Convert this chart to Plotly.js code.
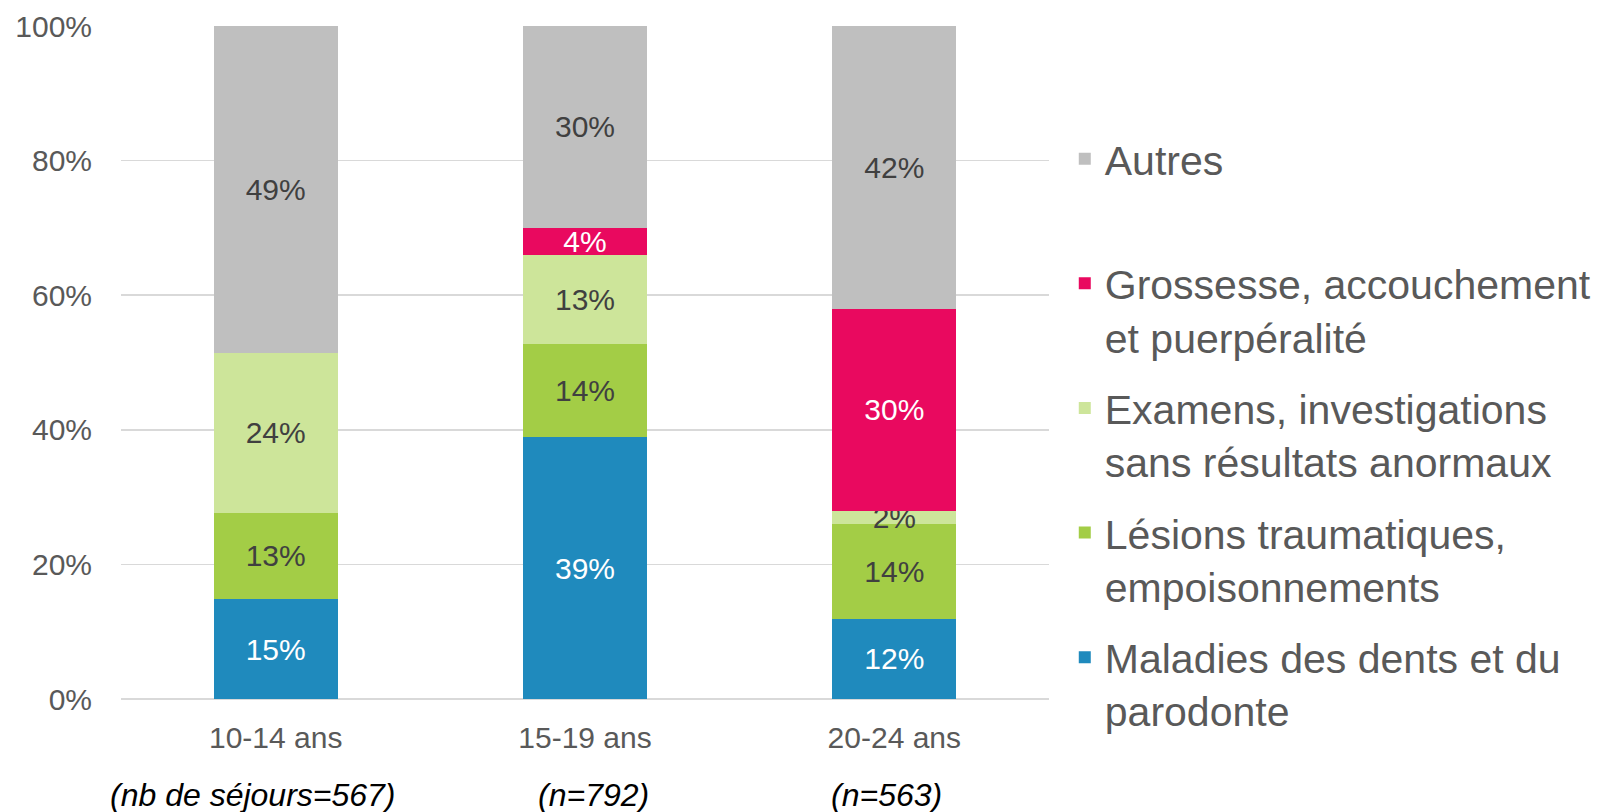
<!DOCTYPE html>
<html>
<head>
<meta charset="utf-8">
<script src="https://cdn.plot.ly/plotly-3.0.1.min.js"></script>
<style>
html, body { margin: 0; padding: 0; background: #ffffff; }
#chart { width: 1616px; height: 812px; }
</style>
</head>
<body>
<div id="chart"></div>
<script>
// Categories and sample sizes
const categories = ['10-14 ans', '15-19 ans', '20-24 ans'];
const subtitles = ['(nb de séjours=567)', '(n=792)', '(n=563)'];

// Series values (percent of stays)
const maladies = [14.8, 38.9, 11.9];
const lesions = [12.9, 13.9, 14.1];
const examens = [23.7, 13.2, 2.0];
const grossesse = [null, 4.0, 30.0];
const autres = [48.6, 30.0, 42.0];

// Series names
const seriesNames = [
  'Maladies des dents et du<br>parodonte',
  'Lésions traumatiques,<br>empoisonnements',
  'Examens, investigations<br>sans résultats anormaux',
  'Grossesse, accouchement<br>et puerpéralité',
  'Autres<br> '
];

// Y tick values and labels
const yTicks = [0, 20, 40, 60, 80, 100];
const yTickLabels = ['0%', '20%', '40%', '60%', '80%', '100%'];

const seriesValues = [maladies, lesions, examens, grossesse, autres];
const seriesColors = ['#1F8ABD', '#A3CD46', '#CDE59A', '#E9095F', '#BFBFBF'];
const labelColors = ['#FFFFFF', '#404040', '#404040', '#FFFFFF', '#404040'];

const FONT = '"Liberation Sans", Arial, Helvetica, sans-serif';

const traces = seriesValues.map((vals, i) => ({
  type: 'bar',
  name: seriesNames[i],
  legendgroup: 'g' + i,
  legendrank: seriesValues.length - i,
  x: categories,
  y: vals,
  marker: { color: seriesColors[i], line: { width: 0 } },
  texttemplate: '%{y:.0f}%',
  textposition: 'inside',
  insidetextanchor: 'middle',
  constraintext: 'none',
  textangle: 0,
  textfont: { family: FONT, size: 30, color: labelColors[i] },
  hoverinfo: 'skip'
}));

const annotations = categories.map((c, i) => ({
  xref: 'x',
  yref: 'paper',
  x: c,
  y: -0.143,
  xshift: [-23, 8, -8][i],
  yanchor: 'middle',
  xanchor: 'center',
  text: '<i>' + subtitles[i] + '</i>',
  showarrow: false,
  font: { family: FONT, size: 32, color: '#000000' }
}));

const layout = {
  width: 1616,
  height: 812,
  margin: { l: 121, r: 567, t: 26, b: 113 },
  paper_bgcolor: '#FFFFFF',
  plot_bgcolor: '#FFFFFF',
  barmode: 'stack',
  bargap: 0.6,
  font: { family: FONT, size: 30, color: '#595959' },
  xaxis: {
    type: 'category',
    range: [-0.5, categories.length - 0.5],
    autorange: false,
    showgrid: false,
    showline: false,
    zeroline: false,
    ticks: '',
    tickfont: { family: FONT, size: 30, color: '#595959' },
    ticklabelstandoff: 18
  },
  yaxis: {
    range: [0, 100],
    autorange: false,
    tickmode: 'array',
    tickvals: yTicks,
    ticktext: yTickLabels,
    showgrid: true,
    gridcolor: '#D9D9D9',
    gridwidth: 1.5,
    zeroline: true,
    zerolinecolor: '#D9D9D9',
    zerolinewidth: 1.5,
    showline: false,
    ticks: '',
    tickfont: { family: FONT, size: 30, color: '#595959' },
    ticklabelstandoff: 28
  },
  legend: {
    x: 1.017,
    xanchor: 'left',
    y: 0.852,
    yanchor: 'top',
    traceorder: 'grouped',
    tracegroupgap: 15,
    valign: 'top',
    font: { family: FONT, size: 41, color: '#595959' },
    bgcolor: 'rgba(0,0,0,0)',
    borderwidth: 0
  },
  annotations: annotations,
  showlegend: true
};

Plotly.newPlot('chart', traces, layout, { displayModeBar: false, staticPlot: true });
</script>
</body>
</html>
